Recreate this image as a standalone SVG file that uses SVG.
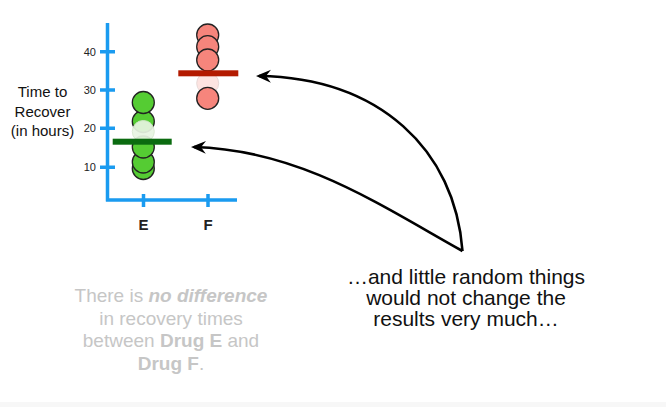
<svg xmlns="http://www.w3.org/2000/svg" width="666" height="407" viewBox="0 0 666 407">
<defs>
<style>
text{font-family:"Liberation Sans",Arial,sans-serif}
.axis{stroke:#1a9bf0;stroke-width:3.5;fill:none}
.tick{font-size:11px;fill:#222;text-anchor:end}
.ylab{font-size:15px;fill:#111;text-anchor:middle}
.xlab{font-size:15px;font-weight:bold;fill:#222;text-anchor:middle}
.g{fill:#55cc33;stroke:#222;stroke-width:1.3}
.gf{fill:#e8f5e2;stroke:#d8e8d0;stroke-width:1;opacity:0.92}
.p{fill:#f6857c;stroke:#222;stroke-width:1.3}
.pf{fill:#fde2df;stroke:#e6d6d4;stroke-width:1;opacity:0.92}
.conn{fill:none;stroke:#000;stroke-width:2.6}
.note{font-size:21px;fill:#111;text-anchor:middle}
.grey{font-size:19px;fill:#c6c6c6;text-anchor:middle}
</style>
<marker id="ah" viewBox="0 0 16 14" refX="12" refY="7" markerWidth="16" markerHeight="14" markerUnits="userSpaceOnUse" orient="auto">
<path d="M15,7 L0,0.5 L5,7 L0,13.5 Z" fill="#000"/>
</marker>
</defs>
<rect x="0" y="0" width="666" height="407" fill="#fff"/>
<rect x="0" y="402" width="666" height="5" fill="#f7f7f7"/>
<g id="chart">
<path class="axis" d="M107.5,23 V201.5 M106,200 H237"/>
<path class="axis" d="M100,51.7 H115 M100,90 H115 M100,128.3 H115 M100,167.3 H115 M143.5,194 V207 M208,194 V207"/>
<text class="tick" x="96" y="55.5">40</text>
<text class="tick" x="96" y="94">30</text>
<text class="tick" x="96" y="132.3">20</text>
<text class="tick" x="96" y="171.3">10</text>
<text class="ylab" x="42.5" y="97">Time to</text>
<text class="ylab" x="42.5" y="117">Recover</text>
<text class="ylab" x="42.5" y="135.5">(in hours)</text>
<text class="xlab" x="143.5" y="230">E</text>
<text class="xlab" x="208" y="230">F</text>
</g>
<g id="drugE">
<circle class="g" cx="143.3" cy="168.5" r="11"/>
<circle class="g" cx="143.3" cy="162" r="11"/>
<circle class="g" cx="143.3" cy="147" r="11"/>
<circle class="g" cx="143.3" cy="121.5" r="11"/>
<circle class="g" cx="143.3" cy="102.5" r="11"/>
<circle class="gf" cx="143.3" cy="131.5" r="11"/>
<rect x="112.7" y="138.7" width="59" height="6" fill="#0b6b10"/>
</g>
<g id="drugF">
<circle class="p" cx="207.7" cy="35" r="11"/>
<circle class="p" cx="207.7" cy="46.7" r="11"/>
<circle class="p" cx="207.7" cy="60" r="11"/>
<circle class="pf" cx="207.7" cy="83.3" r="11"/>
<circle class="p" cx="207.7" cy="98.3" r="11"/>
<rect x="178.3" y="70.3" width="60" height="6" fill="#b31a00"/>
</g>
<g id="connectors">
<path class="conn" marker-end="url(#ah)" d="M462.5,251 C455,150 380,78 259,76"/>
<path class="conn" marker-end="url(#ah)" d="M462.5,251 C380,205 300,150 194,147"/>
</g>
<g id="note">
<text class="note" x="466" y="283.5">…and little random things</text>
<text class="note" x="466" y="304.5">would not change the</text>
<text class="note" x="466" y="325.5">results very much…</text>
</g>
<g id="statement">
<text class="grey" x="171" y="302">There is <tspan font-weight="bold" font-style="italic">no difference</tspan></text>
<text class="grey" x="171" y="324.5">in recovery times</text>
<text class="grey" x="171" y="347">between <tspan font-weight="bold">Drug E</tspan> and</text>
<text class="grey" x="171" y="369.5"><tspan font-weight="bold">Drug F</tspan>.</text>
</g>
</svg>
